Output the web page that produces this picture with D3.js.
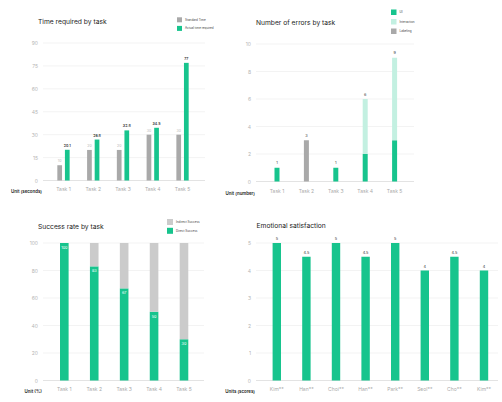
<!DOCTYPE html>
<html><head><meta charset="utf-8">
<script src="https://cdn.jsdelivr.net/npm/d3@7"></script>
<style>
html,body{margin:0;padding:0;background:#fff;}
svg{display:block;font-family:Inter,"Noto Sans",sans-serif;}
</style></head>
<body>
<svg id="c" width="502" height="402"></svg>
<script>
// ---- data ----
const tasks = ["Task 1","Task 2","Task 3","Task 4","Task 5"];
const standardTime = [10, 20, 20, 30, 30];
const actualTime = [20.1, 26.8, 32.8, 34.5, 77];
const timeTicks = [0, 15, 30, 45, 60, 75, 90];

const errorsUI = [1, 0, 1, 2, 3];
const errorsInteraction = [0, 0, 0, 4, 6];
const errorsLabeling = [0, 3, 0, 0, 0];
const errorTicks = [0, 2, 4, 6, 8, 10];

const directSuccess = [100, 83, 67, 50, 30];
const indirectSuccess = [0, 17, 33, 50, 70];
const successTicks = [0, 20, 40, 60, 80, 100];

const people = ["Kim**","Han**","Choi**","Han**","Park**","Seol**","Cho**","Kim**"];
const satisfaction = [5, 4.5, 5, 4.5, 5, 4, 4.5, 4];
const scoreTicks = [0, 1, 2, 3, 4, 5];

// ---- style ----
const GREEN = "#17c48d", LIGHTGREEN = "#c3f0e1", GRAY = "#a9a9a9", LIGHTGRAY = "#cbcbcb";
const svg = d3.select("#c");

function panel(o){
  const g = svg.append("g");
  const y = d3.scaleLinear().domain(o.yDomain).range([o.y0, o.y1]);
  g.selectAll("line.grid").data(o.ticks).join("line")
    .attr("x1", o.left).attr("x2", o.right)
    .attr("y1", d => y(d)).attr("y2", d => y(d))
    .attr("stroke", d => d === 0 ? "#dcdcdc" : "#f0f0f0").attr("stroke-width", 0.8);
  const ax = g.append("g").attr("transform", `translate(${o.left},0)`)
    .call(d3.axisLeft(y).tickValues(o.ticks).tickFormat(d3.format("~g")).tickSize(0).tickPadding(5));
  ax.select(".domain").remove();
  ax.selectAll("text").attr("fill", "#b5b5b5").style("font-size", "5px").style("font-family","Inter,sans-serif");
  const x = d3.scaleBand().domain(o.cats.map((c,i)=>i)).range(o.xRange).paddingInner(0).paddingOuter(0);
  const xa = g.append("g").attr("transform", `translate(0,${o.y0})`)
    .call(d3.axisBottom(x).tickSize(0).tickPadding(o.xPad).tickFormat(i => o.cats[i]));
  xa.select(".domain").remove();
  xa.selectAll("text").attr("fill", "#aaa").style("font-size", "5px").style("font-family","Inter,sans-serif");
  g.append("text").attr("x", o.left - 1).attr("y", o.y0 + o.xPad + 5)
    .attr("text-anchor", "end").attr("fill", "#222").style("font-size", "4.4px").style("font-weight", 600)
    .text(o.unit);
  g.append("text").attr("x", o.titleX).attr("y", o.titleY).attr("fill", "#222")
    .style("font-size", "6.7px").style("font-weight", 400).text(o.title);
  o.legend.forEach((l, i) => {
    g.append("rect").attr("x", o.legX).attr("y", o.legY + i * o.legStep)
      .attr("width", o.legSize).attr("height", o.legSize).attr("fill", l[1]);
    g.append("text").attr("x", o.legX + o.legSize + 3).attr("y", o.legY + i * o.legStep + o.legSize/2 + 1)
      .attr("fill", "#444").style("font-size", "3px").text(l[0]);
  });
  return {g, x, y};
}

// ---- Chart 1: time ----
(function(){
  const p = panel({yDomain:[0,90], y0:180.5, y1:43, left:43, right:205, ticks:timeTicks,
    cats:tasks, xRange:[48.6,197.4], xPad:7, unit:"Unit (seconds)",
    title:"Time required by task", titleX:38, titleY:23.5,
    legend:[["Standard Time",GRAY],["Actual time required",GREEN]], legX:177, legY:17.3, legStep:8.6, legSize:5});
  const sub = d3.scaleBand().domain(["s","a"]).range([-6.15,6.15]).paddingInner(0.38);
  const rows = tasks.map((t,i)=>({i, s:standardTime[i], a:actualTime[i]}));
  const cx = i => p.x(i) + p.x.bandwidth()/2;
  [["s",GRAY,"#b8b8b8"],["a",GREEN,"#333"]].forEach(([k,col,lc])=>{
    p.g.selectAll(null).data(rows).join("rect")
      .attr("x", d => cx(d.i) + sub(k)).attr("width", sub.bandwidth())
      .attr("y", d => p.y(d[k])).attr("height", d => p.y(0) - p.y(d[k])).attr("fill", col);
    p.g.selectAll(null).data(rows).join("text")
      .attr("x", d => cx(d.i) + sub(k) + sub.bandwidth()/2).attr("y", d => p.y(d[k]) - 3)
      .attr("text-anchor","middle").attr("fill", lc).style("font-size","3.6px").style("font-weight", k==="a"?600:400)
      .text(d => d[k]);
  });
})();

// ---- Chart 2: errors ----
(function(){
  const p = panel({yDomain:[0,10], y0:181.5, y1:44, left:256, right:414, ticks:errorTicks,
    cats:tasks, xRange:[262.3,409.3], xPad:8, unit:"Unit (number)",
    title:"Number of errors by task", titleX:256, titleY:24.5,
    legend:[["UI",GREEN],["Interaction",LIGHTGREEN],["Labeling",GRAY]], legX:391, legY:9.5, legStep:9.5, legSize:5.5});
  const keys = ["ui","inter","lab"];
  const colors = {ui:GREEN, inter:LIGHTGREEN, lab:GRAY};
  const rows = tasks.map((t,i)=>({i, ui:errorsUI[i], inter:errorsInteraction[i], lab:errorsLabeling[i]}));
  const stack = d3.stack().keys(keys)(rows);
  const bw = 5;
  const cx = i => p.x(i) + p.x.bandwidth()/2;
  stack.forEach(s => {
    p.g.selectAll(null).data(s.filter(d => d[1] > d[0])).join("rect")
      .attr("x", d => cx(d.data.i) - bw/2).attr("width", bw)
      .attr("y", d => p.y(d[1])).attr("height", d => p.y(d[0]) - p.y(d[1]))
      .attr("fill", colors[s.key]);
  });
  p.g.selectAll(null).data(rows).join("text")
    .attr("x", d => cx(d.i)).attr("y", d => p.y(d.ui + d.inter + d.lab) - 3.5)
    .attr("text-anchor","middle").attr("fill","#333").style("font-size","3.8px")
    .text(d => d.ui + d.inter + d.lab);
})();

// ---- Chart 3: success ----
(function(){
  const p = panel({yDomain:[0,100], y0:380.5, y1:243, left:43, right:204, ticks:successTicks,
    cats:tasks, xRange:[49.35,198.95], xPad:7, unit:"Unit (%)",
    title:"Success rate by task", titleX:38, titleY:228.5,
    legend:[["Indirect Success",LIGHTGRAY],["Direct Success",GREEN]], legX:167, legY:219, legStep:8.8, legSize:6});
  const rows = tasks.map((t,i)=>({i, d:directSuccess[i], ind:indirectSuccess[i]}));
  const stack = d3.stack().keys(["d","ind"])(rows);
  const colors = {d:GREEN, ind:LIGHTGRAY};
  const bw = 8.6;
  const cx = i => p.x(i) + p.x.bandwidth()/2;
  stack.forEach(s => {
    p.g.selectAll(null).data(s.filter(d => d[1] > d[0])).join("rect")
      .attr("x", d => cx(d.data.i) - bw/2).attr("width", bw)
      .attr("y", d => p.y(d[1])).attr("height", d => p.y(d[0]) - p.y(d[1]))
      .attr("fill", colors[s.key]);
  });
  p.g.selectAll(null).data(rows).join("text")
    .attr("x", d => cx(d.i)).attr("y", d => p.y(d.d) + 6)
    .attr("text-anchor","middle").attr("fill","#fff").style("font-size","3.8px")
    .text(d => d.d);
})();

// ---- Chart 4: satisfaction ----
(function(){
  const p = panel({yDomain:[0,5], y0:380.5, y1:243, left:256, right:498, ticks:scoreTicks,
    cats:people, xRange:[262,498.8], xPad:7, unit:"Units (scores)",
    title:"Emotional satisfaction", titleX:256.5, titleY:228,
    legend:[], legX:0, legY:0, legStep:0, legSize:0});
  const rows = people.map((n,i)=>({i, v:satisfaction[i]}));
  const bw = 8.4;
  const cx = i => p.x(i) + p.x.bandwidth()/2;
  p.g.selectAll(null).data(rows).join("rect")
    .attr("x", d => cx(d.i) - bw/2).attr("width", bw)
    .attr("y", d => p.y(d.v)).attr("height", d => p.y(0) - p.y(d.v)).attr("fill", GREEN);
  p.g.selectAll(null).data(rows).join("text")
    .attr("x", d => cx(d.i)).attr("y", d => p.y(d.v) - 3)
    .attr("text-anchor","middle").attr("fill","#333").style("font-size","3.8px")
    .text(d => d.v);
})();
</script>
</body></html>
